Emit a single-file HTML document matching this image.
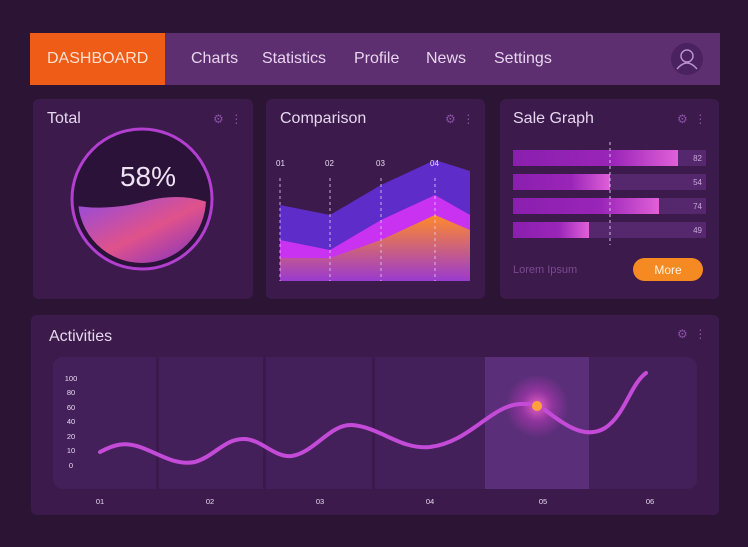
<!DOCTYPE html>
<html><head><meta charset="utf-8"><style>
body{margin:0;width:748px;height:547px;background:#2b1434;font-family:"Liberation Sans",sans-serif;overflow:hidden;position:relative}
.a{position:absolute}
.card{position:absolute;background:#3c1b4c;border-radius:6px}
.t{position:absolute;color:#e6d6ee;font-size:16px}
.ic{position:absolute;color:#8a4fa8;font-size:12px}
.nav{color:#e7d5ee;font-size:16px;position:absolute;top:50px}
</style></head><body>
<div class="a" style="left:30px;top:33px;width:690px;height:52px;background:#5d2e70"></div>
<div class="a" style="left:30px;top:33px;width:135px;height:52px;background:#ef5c18"></div>
<div class="nav" style="left:47px;color:#fde0d0">DASHBOARD</div>
<div class="nav" style="left:191px">Charts</div>
<div class="nav" style="left:262px">Statistics</div>
<div class="nav" style="left:354px">Profile</div>
<div class="nav" style="left:426px">News</div>
<div class="nav" style="left:494px">Settings</div>
<svg class="a" style="left:670px;top:42px" width="34" height="34"><circle cx="17" cy="17" r="16" fill="#4a2260"/><circle cx="17" cy="14" r="6" fill="none" stroke="#b98fcc" stroke-width="1.5"/><path d="M7 27 Q17 15 27 27" fill="none" stroke="#b98fcc" stroke-width="1.5"/></svg>

<div class="card" style="left:33px;top:99px;width:220px;height:200px"></div>
<div class="card" style="left:266px;top:99px;width:219px;height:200px"></div>
<div class="card" style="left:500px;top:99px;width:219px;height:200px"></div>
<div class="card" style="left:31px;top:315px;width:688px;height:200px"></div>
<div class="t" style="left:47px;top:110px">Total</div>
<div class="t" style="left:280px;top:110px">Comparison</div>
<div class="t" style="left:513px;top:110px">Sale Graph</div>
<div class="t" style="left:49px;top:328px">Activities</div>
<div class="ic" style="left:213px;top:112px">⚙ &nbsp;⋮</div>
<div class="ic" style="left:445px;top:112px">⚙ &nbsp;⋮</div>
<div class="ic" style="left:677px;top:112px">⚙ &nbsp;⋮</div>
<div class="ic" style="left:677px;top:327px">⚙ &nbsp;⋮</div>

<svg class="a" style="left:0;top:0" width="748" height="547">
<defs>
<linearGradient id="w" x1="0" y1="0" x2="1" y2="1"><stop offset="0" stop-color="#8b4ae8"/><stop offset=".5" stop-color="#e0528a"/><stop offset="1" stop-color="#6a2ad0"/></linearGradient>
<linearGradient id="o" x1="0" y1="0" x2="0" y2="1"><stop offset="0" stop-color="#ff8a2a"/><stop offset="1" stop-color="#9a3ad0"/></linearGradient>
<linearGradient id="bar" x1="0" x2="1"><stop offset="0" stop-color="#8a1fae"/><stop offset=".6" stop-color="#9a25b8"/><stop offset="1" stop-color="#e060d8"/></linearGradient>
<radialGradient id="g"><stop offset="0" stop-color="#ff6ad0" stop-opacity=".9"/><stop offset=".5" stop-color="#c03ac0" stop-opacity=".5"/><stop offset="1" stop-color="#c03ac0" stop-opacity="0"/></radialGradient>
<clipPath id="c"><circle cx="142" cy="199" r="64"/></clipPath>
</defs>
<circle cx="142" cy="199" r="70" fill="#2a1238" stroke="#b23fd0" stroke-width="3"/>
<g clip-path="url(#c)"><path d="M70 205 Q110 212 150 200 Q185 192 215 205 L215 270 L70 270Z" fill="url(#w)"/></g>
<text x="148" y="186" fill="#efe2f4" font-size="28" text-anchor="middle" font-family="Liberation Sans">58%</text>

<path d="M280 205 L330 215 L381 185 L435 160 L470 171 L470 281 L280 281Z" fill="#5e2cc8"/>
<path d="M280 240 L330 250 L381 220 L435 195 L470 215 L470 281 L280 281Z" fill="#c832f0"/>
<path d="M280 258 L330 258 L381 240 L435 215 L470 230 L470 281 L280 281Z" fill="url(#o)"/>
<g stroke="#e8d0f0" stroke-dasharray="3,3" stroke-width="1" opacity=".8"><line x1="280" y1="178" x2="280" y2="281"/><line x1="330" y1="178" x2="330" y2="281"/><line x1="381" y1="178" x2="381" y2="281"/><line x1="435" y1="178" x2="435" y2="281"/></g>
<g fill="#e8d8f0" font-size="8" font-family="Liberation Sans"><text x="276" y="166">01</text><text x="325" y="166">02</text><text x="376" y="166">03</text><text x="430" y="166">04</text></g>

<g><rect x="513" y="150" width="193" height="16" fill="#55286e"/><rect x="513" y="150" width="165" height="16" fill="url(#bar)"/>
<rect x="513" y="174" width="193" height="16" fill="#55286e"/><rect x="513" y="174" width="97" height="16" fill="url(#bar)"/>
<rect x="513" y="198" width="193" height="16" fill="#55286e"/><rect x="513" y="198" width="146" height="16" fill="url(#bar)"/>
<rect x="513" y="222" width="193" height="16" fill="#55286e"/><rect x="513" y="222" width="76" height="16" fill="url(#bar)"/></g>
<line x1="610" y1="142" x2="610" y2="245" stroke="#d8b8e8" stroke-dasharray="3,3"/>
<g fill="#c8a8d8" font-size="8" text-anchor="end" font-family="Liberation Sans"><text x="702" y="161">82</text><text x="702" y="185">54</text><text x="702" y="209">74</text><text x="702" y="233">49</text></g>
<text x="513" y="273" fill="#7a4a90" font-size="11" font-family="Liberation Sans">Lorem Ipsum</text>
<rect x="633" y="258" width="70" height="23" rx="11.5" fill="#f58a22"/>
<text x="668" y="274" fill="#fff2e0" font-size="12" text-anchor="middle" font-family="Liberation Sans">More</text>

<rect x="53" y="357" width="644" height="132" rx="10" fill="#44205a"/>
<g fill="#3a1a4c"><rect x="156" y="357" width="3" height="132"/><rect x="263" y="357" width="3" height="132"/><rect x="372" y="357" width="3" height="132"/></g>
<rect x="485" y="357" width="104" height="132" fill="#5a2e78"/>
<g fill="#e8d8f0" font-size="7.5" text-anchor="middle" font-family="Liberation Sans"><text x="71" y="381">100</text><text x="71" y="395">80</text><text x="71" y="410">60</text><text x="71" y="424">40</text><text x="71" y="439">20</text><text x="71" y="453">10</text><text x="71" y="468">0</text>
<text x="100" y="504">01</text><text x="210" y="504">02</text><text x="320" y="504">03</text><text x="430" y="504">04</text><text x="543" y="504">05</text><text x="650" y="504">06</text></g>
<circle cx="537" cy="406" r="32" fill="url(#g)"/>
<path d="M100 452 C115 444 125 442 140 447 C160 454 175 466 195 462 C215 456 225 438 245 439 C262 440 275 458 292 456 C315 452 330 424 352 425 C380 427 400 450 430 447 C470 442 490 406 520 404 L530 404 M545 410 C565 425 585 440 605 428 C625 415 630 385 646 373" fill="none" stroke="#c44ad8" stroke-width="4" stroke-linecap="round"/>
<circle cx="537" cy="406" r="5" fill="#ffa040"/>
</svg>
</body></html>
